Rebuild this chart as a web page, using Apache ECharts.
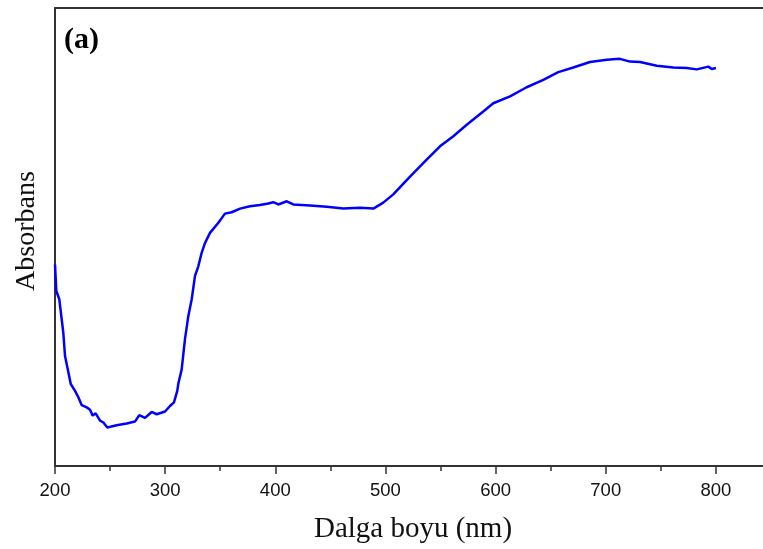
<!DOCTYPE html>
<html>
<head>
<meta charset="utf-8">
<script src="https://cdn.jsdelivr.net/npm/echarts@6/dist/echarts.min.js"></script>
<style>html,body{margin:0;padding:0;background:#fff;overflow:hidden;width:763px;height:549px}#c{width:771px;height:549px}</style>
</head>
<body>
<div id="c"></div>
<script>
const wavelength = [200,201.2,203.9,207.5,209.1,212.1,214.3,218.2,221.2,224.2,228.8,231.8,234.2,236.9,240.9,243.9,247.5,256.0,265.1,272.6,276.5,281.7,287.8,292.3,299.9,304.4,308.0,311.0,311.9,315.0,318.0,321.0,324.1,327.1,330.1,333.2,336.2,340.7,348.3,354.3,360.4,368.0,377.0,386.1,393.6,398.2,402.7,410.4,416.3,431.5,446.7,461.7,476.9,489.0,498.0,507.1,522.3,537.4,549.5,561.6,573.8,588.8,597.9,613.1,628.2,643.3,656.9,670.5,685.7,700.9,712.9,722.0,731.1,746.3,761.3,773.5,782.6,793.1,796.2,800];
const absorbance = [0.440,0.382,0.364,0.292,0.240,0.205,0.179,0.164,0.150,0.133,0.128,0.123,0.110,0.115,0.099,0.095,0.084,0.089,0.093,0.097,0.111,0.105,0.118,0.113,0.119,0.131,0.139,0.164,0.179,0.211,0.277,0.327,0.364,0.415,0.436,0.466,0.487,0.509,0.531,0.551,0.554,0.562,0.567,0.570,0.573,0.576,0.571,0.578,0.571,0.569,0.566,0.562,0.564,0.562,0.575,0.593,0.632,0.669,0.698,0.720,0.745,0.774,0.792,0.807,0.827,0.843,0.860,0.870,0.882,0.887,0.889,0.883,0.882,0.874,0.870,0.869,0.866,0.872,0.867,0.869];
const xTitle = 'Dalga boyu (nm)';
const yTitle = 'Absorbans';
const panelLabel = '(a)';

const chart = echarts.init(document.getElementById('c'), null, {renderer:'canvas'});
const axisColor = '#333333';
chart.setOption({
  animation:false,
  backgroundColor:'#ffffff',
  grid:{left:55, right:0, top:8, bottom:82},
  xAxis:[{
    type:'value', min:200, max:850, interval:100,
    axisLine:{show:true, lineStyle:{color:axisColor, width:2}},
    axisTick:{show:true, length:8, lineStyle:{color:axisColor, width:1.5}},
    minorTick:{show:true, splitNumber:2, length:5, lineStyle:{color:axisColor, width:1.5}},
    splitLine:{show:false},
    axisLabel:{showMaxLabel:false, color:'#111', fontFamily:'Liberation Sans, Arial, sans-serif', fontSize:18.5, margin:15},
    name:xTitle, nameLocation:'middle', nameGap:49,
    nameTextStyle:{fontFamily:'Liberation Serif, Times New Roman, serif', fontSize:29, color:'#111'}
  },{
    type:'value', position:'top', min:200, max:850,
    axisLine:{show:true, lineStyle:{color:axisColor, width:2}},
    axisTick:{show:false}, axisLabel:{show:false}, splitLine:{show:false}
  }],
  yAxis:{
    type:'value', min:0, max:1,
    axisLine:{show:true, lineStyle:{color:axisColor, width:2}},
    axisTick:{show:false}, axisLabel:{show:false}, splitLine:{show:false},
    name:yTitle, nameLocation:'middle', nameGap:14,
    nameTextStyle:{fontFamily:'Liberation Serif, Times New Roman, serif', fontSize:28, color:'#111', padding:[0,0,0,12]}
  },
  graphic:[{
    type:'text', left:64, top:25,
    style:{text:panelLabel, font:'bold 30px "Liberation Serif", "Times New Roman", serif', fill:'#000'}
  }],
  series:[{
    type:'line', xAxisIndex:0,
    data: wavelength.map((w,i)=>[w, absorbance[i]]),
    showSymbol:false, smooth:false,
    lineStyle:{color:'#0000ff', width:2.5}
  }]
});
</script>
</body>
</html>
